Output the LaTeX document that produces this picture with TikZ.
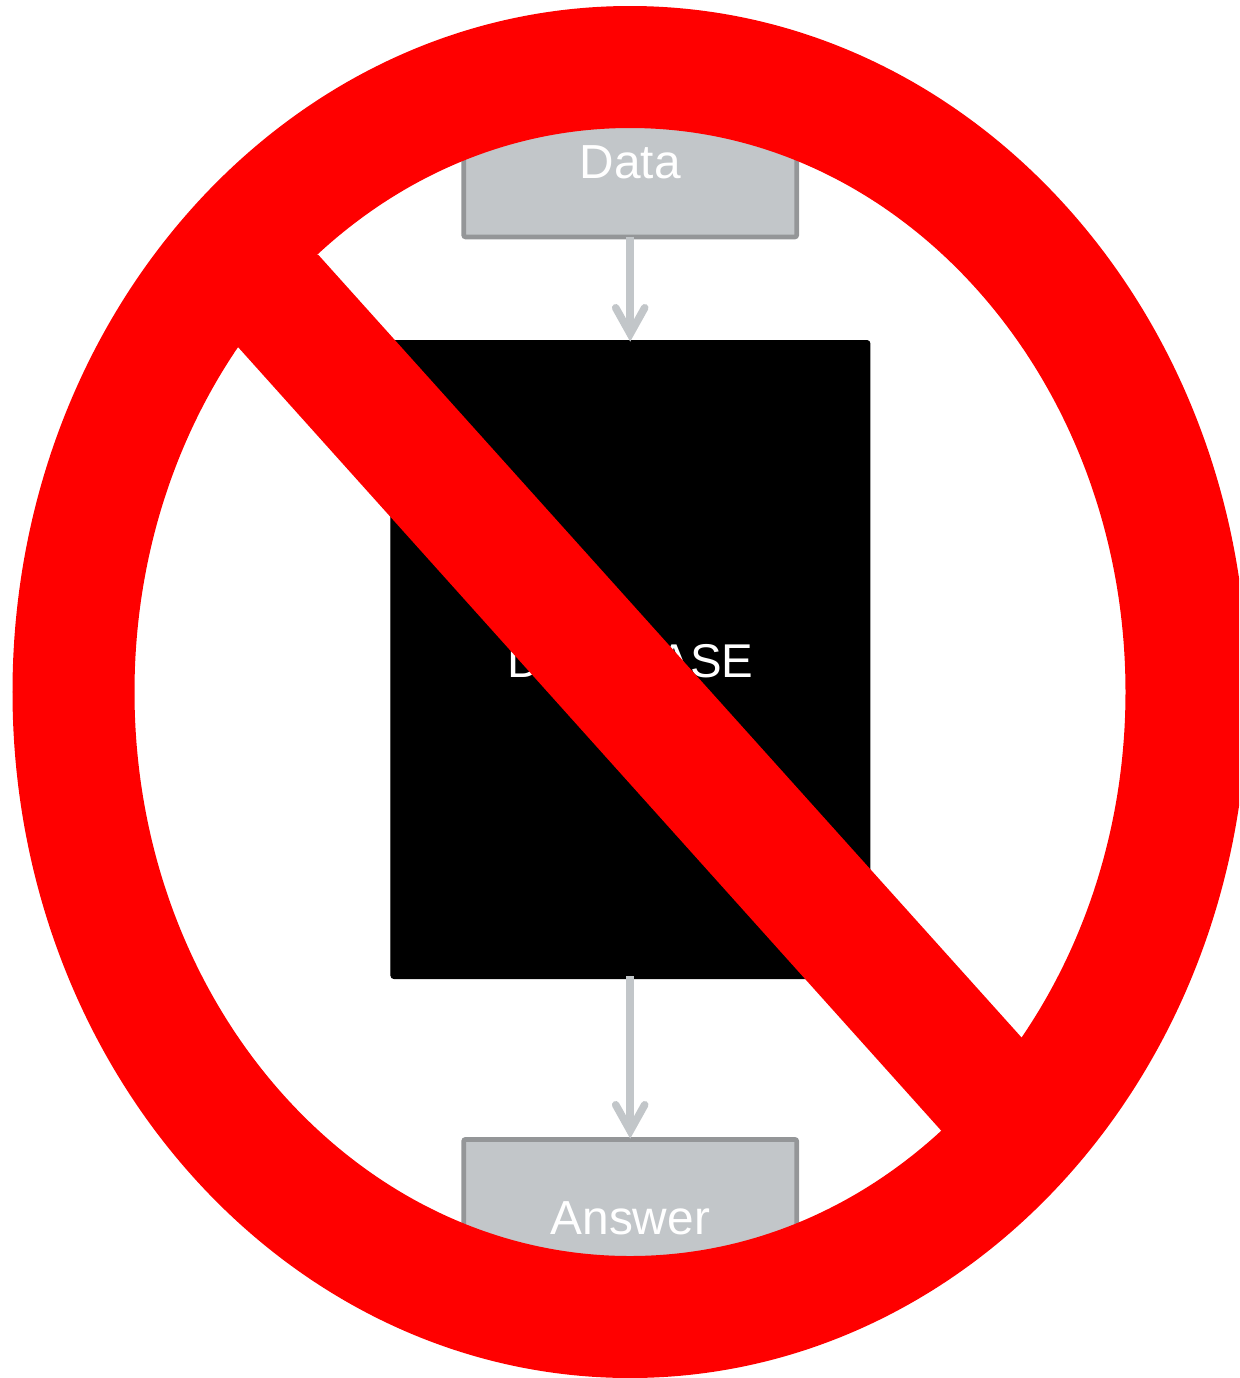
\documentclass[tikz,border=0pt]{standalone}
\usepackage{fontspec}
\setmainfont{Liberation Sans}
\usetikzlibrary{arrows.meta}
\definecolor{boxfill}{HTML}{C2C6C9}
\definecolor{boxline}{HTML}{949698}
\definecolor{arrowgray}{HTML}{C2C6C9}
\tikzset{
  x=0.5pt,y=-0.5pt,
  grayline/.style={draw=boxline,fill=boxfill,line width=2.4pt,rounded corners=1pt},
  dbbox/.style={fill=black,draw=black,line width=0.5pt,rounded corners=1.5pt},
  flow/.style={draw=arrowgray,line width=3.8pt,shorten <=-1.3pt,shorten >=-0.8pt,-{Straight Barb[length=13pt,width=14.5pt,line width=3.8pt,line cap=round,line join=miter]}},
  lab/.style={text=white,inner sep=0pt,anchor=base},
  ban/.style={draw=red,line width=61pt},
}
\begin{document}
\begin{tikzpicture}
\useasboundingbox (0,0) rectangle (1239,1378);
\clip (0,0) rectangle (1239,1378);
\node[grayline,minimum width=166.5pt,minimum height=68.5pt,inner sep=0pt,anchor=south] (box1) at (630.2,239.3) {};
\node[grayline,minimum width=166.5pt,minimum height=80.5pt,inner sep=0pt,anchor=north] (box3) at (630.2,1137) {};
\node[dbbox,minimum width=239.5pt,minimum height=319pt,inner sep=0pt,anchor=north] (box2) at (630.4,340) {};
\draw[flow] (box1.south) -- (box1.south |- box2.north);
\draw[flow] (box2.south -| box3.north) -- (box3.north);
\node[lab,font=\fontsize{23.9pt}{28pt}\selectfont] (data) at (630.3,178) {Data};
\node[lab,font=\fontsize{23.7pt}{28pt}\selectfont] (base) at (630.3,677) {DATABASE};
\node[lab,font=\fontsize{23.9pt}{28pt}\selectfont] (answer) at (630.3,1234) {Answer};
\fill[red] (318,254.5) -- (1022,1038) -- (1062,1085) -- (942,1131.5) -- (238,347) -- (200,300) -- cycle;
\draw[ban] (630,692) ellipse [x radius=556.5,y radius=625];
\end{tikzpicture}
\end{document}
